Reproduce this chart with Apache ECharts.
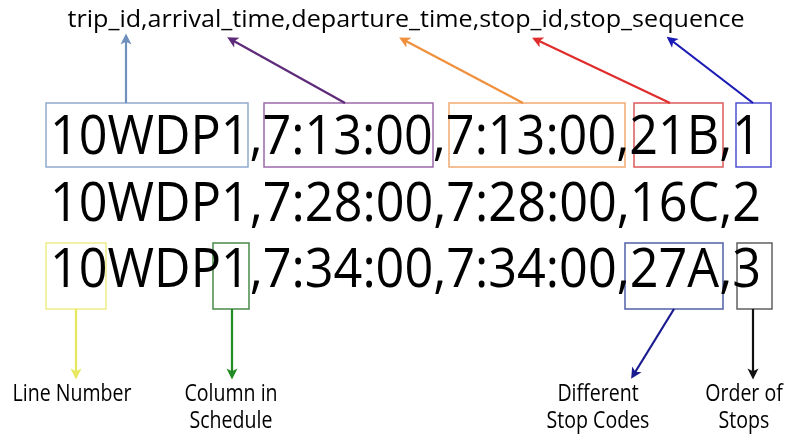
<!DOCTYPE html>
<html>
<head>
<meta charset="utf-8">
<script src="https://cdn.jsdelivr.net/npm/echarts@6/dist/echarts.min.js"></script>
<style>
html, body { margin: 0; padding: 0; background: #fff; }
#main { width: 786px; height: 434px; }
</style>
</head>
<body>
<div id="main"></div>
<script>
// header line and the three sample rows of stop_times.txt
var headerText = 'trip_id,arrival_time,departure_time,stop_id,stop_sequence';
var rowTexts = [
    '10WDP1,7:13:00,7:13:00,21B,1',
    '10WDP1,7:28:00,7:28:00,16C,2',
    '10WDP1,7:34:00,7:34:00,27A,3'
];
// notes under the bottom arrows
var noteTexts = ['Line Number', 'Column in\nSchedule', 'Different\nStop Codes', 'Order of\nStops'];

// boxes round the fields, in picture units: [x0, y0, x1, y1]
var boxes = [
    [46, 103, 248, 167],   // trip_id
    [264, 103, 433, 167],  // arrival_time
    [449, 103, 625, 167],  // departure_time
    [634, 103, 723, 167],  // stop_id
    [736, 103, 771, 167],  // stop_sequence
    [46, 243, 106, 309],   // line number
    [213, 243, 249, 309],  // column in schedule
    [625, 243, 723, 309],  // stop code
    [737, 243, 772, 309]   // order of stops
];
var boxColors = ['#90aad0', '#9a6aaa', '#f0aa70', '#e05a5a', '#5050d0',
                 '#eeee88', '#4a8a4a', '#5060a8', '#606060'];

// arrows: [fromX, fromY, toX, toY]
var arrows = [
    [126, 103, 126, 39],
    [345, 103, 232, 40],
    [523, 103, 404, 40],
    [670, 103, 537, 40],
    [753, 103, 671, 40],
    [76, 309, 76, 374],
    [232, 309, 232, 374],
    [674, 309, 634, 374],
    [753, 309, 753, 374]
];
var arrowColors = ['#6f8fbf', '#5e2a7a', '#f0903c', '#e02c2c', '#1a1ab4',
                   '#e8e860', '#228a22', '#1a1a90', '#111111'];

var FONT = '"Open Sans", "Liberation Sans", sans-serif';
var measureCtx = document.createElement('canvas').getContext('2d');
function textWidth(text, size) {
    measureCtx.font = size + 'px ' + FONT;
    return measureCtx.measureText(text).width;
}

// text placements: [x, y] anchors plus wanted width (squeezes Open Sans to Calibri width)
var textItems = [];
textItems.push({ text: headerText, pos: [406, 20], size: 24, align: 'center', width: 677 });
var rowY = [138, 205, 271];
rowTexts.forEach(function (t, i) {
    textItems.push({ text: t, pos: [50, rowY[i]], size: 55, align: 'left', width: 711 });
});
var noteX = [72, 231, 598, 744];
var noteScale = 119 / textWidth('Line Number', 23);
noteTexts.forEach(function (t, i) {
    textItems.push({ text: t, pos: [noteX[i], 381], size: 23, align: 'center', scale: noteScale, lineHeight: 27, valign: 'top' });
});

var chart = echarts.init(document.getElementById('main'));

var option = {
    animation: false,
    grid: { left: 0, right: 0, top: 0, bottom: 0 },
    xAxis: { type: 'value', min: 0, max: 786, show: false },
    yAxis: { type: 'value', min: 0, max: 434, inverse: true, show: false },
    series: [
        {
            type: 'custom',
            coordinateSystem: 'cartesian2d',
            data: boxes,
            renderItem: function (params, api) {
                var p0 = api.coord([api.value(0), api.value(1)]);
                var p1 = api.coord([api.value(2), api.value(3)]);
                return {
                    type: 'rect',
                    shape: { x: p0[0], y: p0[1], width: p1[0] - p0[0], height: p1[1] - p0[1] },
                    style: { fill: 'none', stroke: boxColors[params.dataIndex], lineWidth: 1.5 }
                };
            }
        },
        {
            type: 'lines',
            coordinateSystem: 'cartesian2d',
            symbol: ['none', 'path://M5,0 L10,10 L5,7.5 L0,10 Z'],
            symbolSize: [11, 11],
            lineStyle: { width: 2.2, opacity: 1 },
            data: arrows.map(function (a, i) {
                return {
                    coords: [[a[0], a[1]], [a[2], a[3]]],
                    lineStyle: { color: arrowColors[i] }
                };
            })
        },
        {
            type: 'custom',
            coordinateSystem: 'cartesian2d',
            data: textItems.map(function (t) { return t.pos; }),
            renderItem: function (params, api) {
                var t = textItems[params.dataIndex];
                var p = api.coord([api.value(0), api.value(1)]);
                var sx = t.scale || t.width / textWidth(t.text, t.size);
                return {
                    type: 'text',
                    x: p[0],
                    y: p[1],
                    scaleX: sx,
                    style: {
                        x: 0,
                        y: 0,
                        text: t.text,
                        font: t.size + 'px ' + FONT,
                        fill: '#000',
                        lineHeight: t.lineHeight || t.size,
                        align: t.align,
                        textAlign: t.align,
                        verticalAlign: t.valign || 'middle',
                        textVerticalAlign: t.valign || 'middle'
                    }
                };
            }
        }
    ]
};

chart.setOption(option);
</script>
</body>
</html>
